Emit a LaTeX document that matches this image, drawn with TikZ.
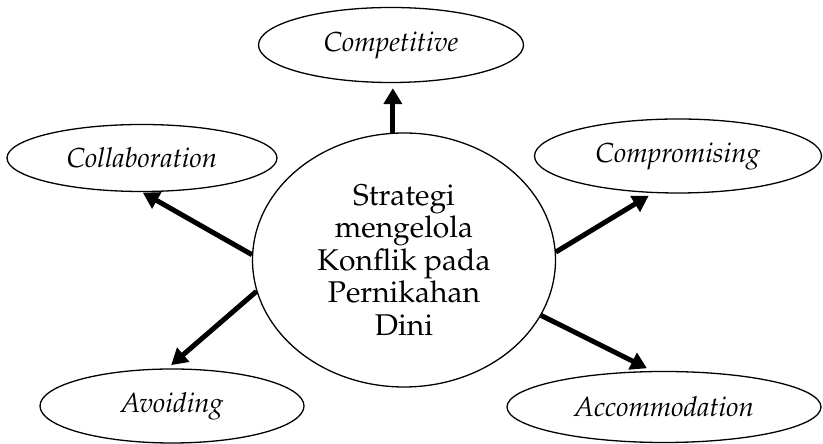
\documentclass[tikz,border=0pt]{standalone}
\usepackage[T1]{fontenc}
\usepackage{mathpazo}
\usepackage{xcolor}
\usepackage{tikz}
\usetikzlibrary{shapes.geometric, arrows.meta, positioning, calc}
\tikzstyle{pusat} = [ellipse, draw=black, line width=1.3pt, inner sep=0pt, minimum width=303pt, minimum height=254pt, align=center, font=\fontsize{30}{32.5}\selectfont]
\tikzstyle{strategi} = [ellipse, draw=black, line width=1.3pt, inner sep=0pt, font=\fontsize{27.5}{30}\selectfont\itshape]
\tikzstyle{arrow} = [line width=5pt, -{Triangle[length=16pt,width=18pt]}]

\begin{document}
\begin{tikzpicture}[x=1pt, y=1pt]
    \useasboundingbox (0,0) rectangle (823,444);
    % Pusat
    \node (main) [pusat] at (404,184) {Strategi\\mengelola\\Konflik pada\\Pernikahan\\Dini};

    % Strategi
    \node (competitive) [strategi, minimum width=265pt, minimum height=75pt] at (391,399) {Competitive};
    \node (collaboration) [strategi, minimum width=270pt, minimum height=67pt] at (142,286) {Collaboration};
    \node (compromising) [strategi, minimum width=287pt, minimum height=74pt] at (678,288) {Compromising};
    \node (avoiding) [strategi, minimum width=264pt, minimum height=74pt] at (172,38) {Avoiding};
    \node (accommodation) [strategi, minimum width=314pt, minimum height=71pt] at (664,37) {Accommodation};

    % Panah
    \draw [arrow, shorten >=5pt] (main.95) -- (main.95 |- competitive.south);
    \draw [arrow, shorten >=1pt] (main.178) -- (collaboration.south);
    \draw [arrow, shorten >=5pt] (main.3) -- (compromising.236);
    \draw [arrow, shorten >=5pt] (main.192) -- (avoiding.97);
    \draw [arrow, shorten >=6pt] (main.338) -- (accommodation.108);
\end{tikzpicture}
\end{document}
